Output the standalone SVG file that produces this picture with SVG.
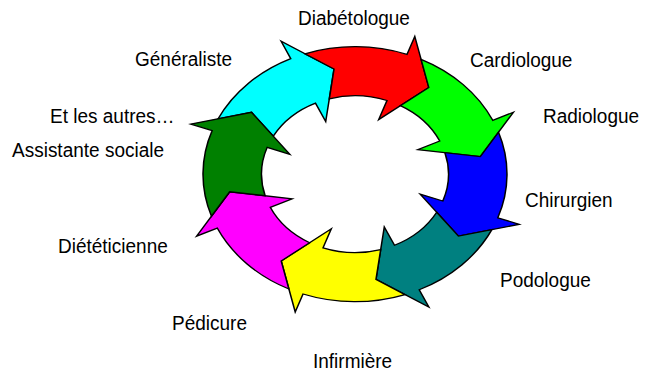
<svg xmlns="http://www.w3.org/2000/svg" xmlns:xlink="http://www.w3.org/1999/xlink" width="645" height="373" viewBox="0 0 645 373">
  <style>
    .seg { stroke: #000; stroke-width: 1; stroke-linejoin: miter; vector-effect: non-scaling-stroke; }
    .lbl { font-family: "Liberation Sans", Arial, sans-serif; font-size: 19px; fill: #000; }
  </style>
  <defs>
    <path id="arrowSeg" d="M99.49,10.06 A100,100 0 0 1 70.71,70.71 L81.32,81.32 L41.17,72.76 L32.24,32.24 L43.49,43.49 A61.5,61.5 0 0 0 60.73,9.67 L80.56,22.34 Z"/>
  </defs>
  <rect width="645" height="373" fill="#fff"/>
  <g id="cycle" transform="translate(355,174.2) scale(1.52,1.275)">
    <g id="generaliste-seg"><use xlink:href="#arrowSeg" href="#arrowSeg" class="seg" fill="#00FFFF" transform="rotate(-160)"/></g>
    <g id="diabetologue-seg"><use xlink:href="#arrowSeg" href="#arrowSeg" class="seg" fill="#FF0000" transform="rotate(-115)"/></g>
    <g id="cardiologue-seg"><use xlink:href="#arrowSeg" href="#arrowSeg" class="seg" fill="#00FF00" transform="rotate(-70)"/></g>
    <g id="radiologue-seg"><use xlink:href="#arrowSeg" href="#arrowSeg" class="seg" fill="#0000FF" transform="rotate(-25)"/></g>
    <g id="podologue-seg"><use xlink:href="#arrowSeg" href="#arrowSeg" class="seg" fill="#008080" transform="rotate(20)"/></g>
    <g id="infirmiere-seg"><use xlink:href="#arrowSeg" href="#arrowSeg" class="seg" fill="#FFFF00" transform="rotate(65)"/></g>
    <g id="pedicure-seg"><use xlink:href="#arrowSeg" href="#arrowSeg" class="seg" fill="#FF00FF" transform="rotate(110)"/></g>
    <g id="autres-seg"><use xlink:href="#arrowSeg" href="#arrowSeg" class="seg" fill="#008000" transform="rotate(155)"/></g>
  </g>
  <g id="labels">
    <g id="lbl-diabetologue"><text class="lbl" transform="translate(298,25) scale(1,1.08)">Diabétologue</text></g>
    <g id="lbl-generaliste"><text class="lbl" transform="translate(135,66) scale(1,1.08)">Généraliste</text></g>
    <g id="lbl-cardiologue"><text class="lbl" transform="translate(470,66.5) scale(1,1.08)">Cardiologue</text></g>
    <g id="lbl-radiologue"><text class="lbl" transform="translate(543,123) scale(1,1.08)">Radiologue</text></g>
    <g id="lbl-autres"><text class="lbl" transform="translate(50,123) scale(1,1.08)">Et les autres…</text></g>
    <g id="lbl-assistante"><text class="lbl" transform="translate(12,156.5) scale(1,1.08)">Assistante sociale</text></g>
    <g id="lbl-chirurgien"><text class="lbl" transform="translate(525,206.5) scale(1,1.08)">Chirurgien</text></g>
    <g id="lbl-dieteticienne"><text class="lbl" transform="translate(58,253) scale(1,1.08)">Diététicienne</text></g>
    <g id="lbl-podologue"><text class="lbl" transform="translate(500,287) scale(1,1.08)">Podologue</text></g>
    <g id="lbl-pedicure"><text class="lbl" transform="translate(172,330) scale(1,1.08)">Pédicure</text></g>
    <g id="lbl-infirmiere"><text class="lbl" transform="translate(313,368) scale(1,1.08)">Infirmière</text></g>
  </g>
</svg>
